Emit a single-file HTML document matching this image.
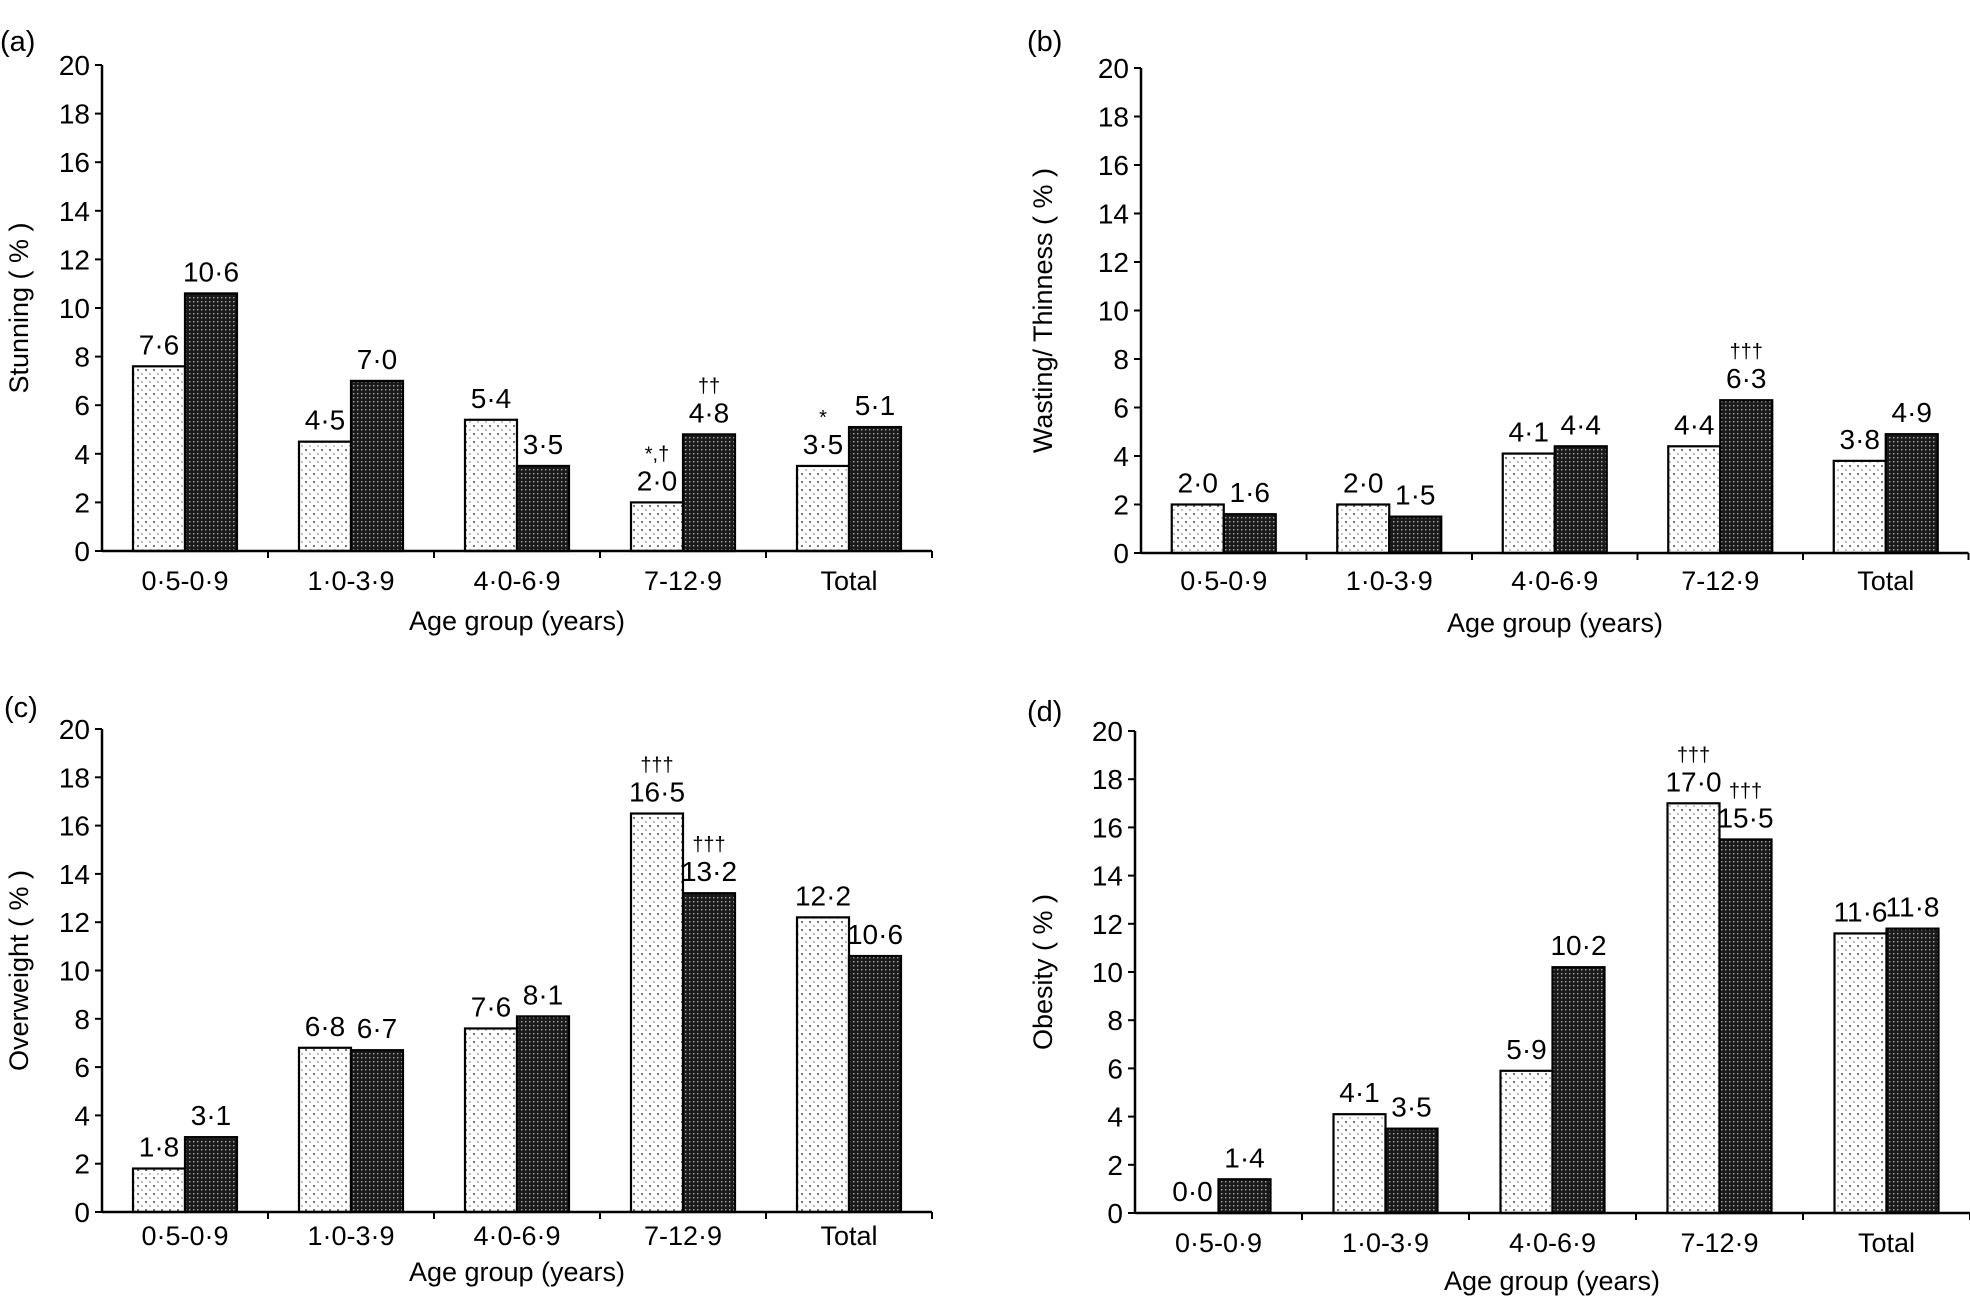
<!DOCTYPE html>
<html><head><meta charset="utf-8"><style>
html,body{margin:0;padding:0;background:#fff;}
svg{display:block;font-family:"Liberation Sans",Arial,sans-serif;}
</style></head><body>
<svg id="fig" width="1970" height="1296" viewBox="0 0 1970 1296" xmlns="http://www.w3.org/2000/svg">
<defs>
<pattern id="lightPat" width="8" height="8" patternUnits="userSpaceOnUse">
<rect width="8" height="8" fill="#fff"/><circle cx="2" cy="2" r="1.1" fill="#666"/><circle cx="6" cy="6" r="0.9" fill="#999"/>
</pattern>
<pattern id="darkPat" width="4" height="4" patternUnits="userSpaceOnUse">
<rect width="4" height="4" fill="#1a1a1a"/><rect x="1" y="1" width="1.4" height="1.4" fill="#aaa"/>
</pattern>
</defs>
</svg>
<script>
const categories = ["0·5-0·9","1·0-3·9","4·0-6·9","7-12·9","Total"];
const stuntLight = [7.6,4.5,5.4,2.0,3.5];
const stuntDark = [10.6,7.0,3.5,4.8,5.1];
const wastLight = [2.0,2.0,4.1,4.4,3.8];
const wastDark = [1.6,1.5,4.4,6.3,4.9];
const overLight = [1.8,6.8,7.6,16.5,12.2];
const overDark = [3.1,6.7,8.1,13.2,10.6];
const obesLight = [0.0,4.1,5.9,17.0,11.6];
const obesDark = [1.4,3.5,10.2,15.5,11.8];
const yTicks = [0,2,4,6,8,10,12,14,16,18,20];
const stuntLightMarks = ["","","","*,†","*"];
const stuntDarkMarks = ["","","","††",""];
const wastLightMarks = ["","","","",""];
const wastDarkMarks = ["","","","†††",""];
const overLightMarks = ["","","","†††",""];
const overDarkMarks = ["","","","†††",""];
const obesLightMarks = ["","","","†††",""];
const obesDarkMarks = ["","","","†††",""];

const NS="http://www.w3.org/2000/svg";
const svg=document.getElementById('fig');
function mk(tag,attrs,parent){const e=document.createElementNS(NS,tag);for(const k in attrs)e.setAttribute(k,attrs[k]);(parent||svg).appendChild(e);return e;}
function fmt(v){return v.toFixed(1).replace('.','·');}

const panels=[
 {id:'a',letter:'(a)',lx:0,ly:51,title:'Stunning ( % )',tx:28,x0:102,cw:166,yt:65,yb:551,light:stuntLight,dark:stuntDark,lm:stuntLightMarks,dm:stuntDarkMarks,catY:590,xtY:630,xtX:517},
 {id:'b',letter:'(b)',lx:1027,ly:51,title:'Wasting/ Thinness ( % )',tx:1052,x0:1141,cw:165.5,yt:68,yb:553,light:wastLight,dark:wastDark,lm:wastLightMarks,dm:wastDarkMarks,catY:590,xtY:632,xtX:1555},
 {id:'c',letter:'(c)',lx:4,ly:717,title:'Overweight ( % )',tx:28,x0:102,cw:166,yt:729,yb:1212,light:overLight,dark:overDark,lm:overLightMarks,dm:overDarkMarks,catY:1245,xtY:1281,xtX:517},
 {id:'d',letter:'(d)',lx:1027,ly:721,title:'Obesity ( % )',tx:1052,x0:1135,cw:167,yt:731,yb:1213,light:obesLight,dark:obesDark,lm:obesLightMarks,dm:obesDarkMarks,catY:1252,xtY:1290,xtX:1552}
];

panels.forEach(p=>{
 const g=mk('g',{});
 
 
 const yS=v=>p.yb-(v/20)*(p.yb-p.yt);
 const xEnd=p.x0+p.cw*categories.length;
 const lt=mk('text',{x:p.lx,y:p.ly,'font-size':29},g);lt.textContent=p.letter;
 
 
 const cy=(p.yt+p.yb)/2;
 const yt=mk('text',{x:p.tx,y:cy,'font-size':27,'text-anchor':'middle',transform:`rotate(-90 ${p.tx} ${cy})`},g);yt.textContent=p.title;
 
 
 categories.forEach((c,i)=>{
  const gx=p.x0+p.cw*i+(p.cw-104)/2;
  [[p.light,'lightPat',p.lm,0],[p.dark,'darkPat',p.dm,52]].forEach(([arr,pat,marks,off],s)=>{
   const v=arr[i];const bx=gx+off;const by=yS(v);
   if(v>0){const r=mk('rect',{x:bx,y:by,width:52,height:p.yb-by,fill:`url(#${pat})`,stroke:'#000','stroke-width':2.2},g);
   
   }
   const t=mk('text',{x:bx+26,y:by-12,'font-size':28,'text-anchor':'middle'},g);t.textContent=fmt(v);
   
   
   if(marks[i]){const m=mk('text',{x:bx+26,y:by-42,'font-size':20,'text-anchor':'middle'},g);m.textContent=marks[i];
   
   }
  });
  const cl=mk('text',{x:p.x0+p.cw*(i+0.5),y:p.catY,'font-size':27,'text-anchor':'middle'},g);cl.textContent=c;
  
  
  if(i>0){mk('line',{x1:p.x0+p.cw*i,x2:p.x0+p.cw*i,y1:p.yb,y2:p.yb+7,stroke:'#000','stroke-width':2},g);}
 });
 mk('line',{x1:xEnd,x2:xEnd,y1:p.yb,y2:p.yb+7,stroke:'#000','stroke-width':2},g);
 const ya=mk('line',{x1:p.x0,x2:p.x0,y1:p.yt,y2:p.yb,stroke:'#000','stroke-width':2.5},g);
 
 
 const xa=mk('line',{x1:p.x0,x2:xEnd,y1:p.yb,y2:p.yb,stroke:'#000','stroke-width':2.5},g);
 
 
 yTicks.forEach(v=>{
  mk('line',{x1:p.x0-7,x2:p.x0,y1:yS(v),y2:yS(v),stroke:'#000','stroke-width':2},g);
  const t=mk('text',{x:p.x0-12,y:yS(v)+10,'font-size':28,'text-anchor':'end'},g);t.textContent=v;
  
  
 });
 const xt=mk('text',{x:p.xtX,y:p.xtY,'font-size':27,'text-anchor':'middle'},g);xt.textContent='Age group (years)';
 
 
});
</script>
</body></html>
